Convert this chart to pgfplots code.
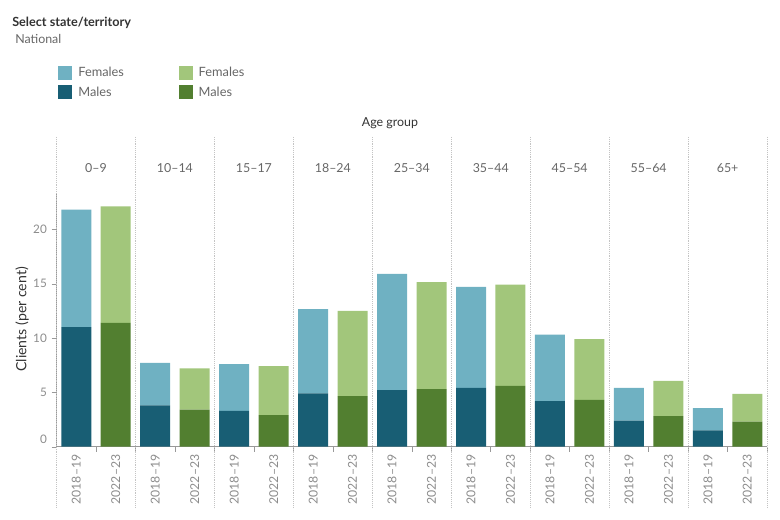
\documentclass[border=0pt]{standalone}
\usepackage{fontspec}
\setmainfont{Lato}
\usepackage{pgfplots}
\pgfplotsset{compat=1.18}
\definecolor{fblue}{HTML}{6FB1C2}
\definecolor{mblue}{HTML}{185E74}
\definecolor{fgreen}{HTML}{A2C67B}
\definecolor{mgreen}{HTML}{527F30}
\definecolor{cdark}{HTML}{333333}
\definecolor{cmid}{HTML}{666666}
\definecolor{clight}{HTML}{8C8C8C}
\definecolor{caxis}{HTML}{999999}
\definecolor{cdot}{HTML}{C4C4C4}
\pgfplotsset{myax/.style={
  width=532.9pt, height=190.25pt, scale only axis,
  at={(42.4pt,55pt)}, anchor=south west,
  xmin=-0.5, xmax=17.5, ymin=0, ymax=23.34, clip=false,
  ybar stacked, bar width=22.5pt,
}}
\begin{document}
\begin{tikzpicture}
\useasboundingbox (0,0) rectangle (585pt,390pt);
\node[anchor=base west, inner sep=0, font=\bfseries\fontsize{9.5}{11}\selectfont, text=cdark] at (9pt,370pt) {Select state/territory};
\node[anchor=base west, inner sep=0, font=\fontsize{9.3}{11}\selectfont, text=cmid] at (11.25pt,357.4pt) {National};
\node[anchor=base, inner sep=0, font=\fontsize{9.3}{11}\selectfont, text=cdark] at (292.5pt,294.75pt) {Age group};
\begin{axis}[myax,
  axis x line=bottom, axis y line=left,
  axis line style={-, draw=caxis},
  ytick={5,10,15,20},
  extra y ticks={0},
  extra y tick style={yticklabel style={yshift=5.5pt}},
  tick align=outside, major tick length=3.75pt,
  ytick style={draw=caxis},
  yticklabel style={font=\fontsize{8.8}{10}\selectfont, text=clight},
  /pgf/number format/assume math mode=true,
  xtick={0,...,17},
  xticklabels={2018–19,2022–23,2018–19,2022–23,2018–19,2022–23,2018–19,2022–23,2018–19,2022–23,2018–19,2022–23,2018–19,2022–23,2018–19,2022–23,2018–19,2022–23},
  xtick style={draw=none},
  xticklabel style={rotate=90, anchor=east, inner sep=2pt, font=\fontsize{9.2}{10}\selectfont, text=clight},
  ylabel={Clients (per cent)},
  every axis y label/.style={at={(rel axis cs:-0.0486,0.502)}, rotate=90, anchor=center, font=\fontsize{10.6}{12}\selectfont, text=cdark},
  legend columns=2,
  legend cell align=left,
  legend image code/.code={\fill[#1] (0pt,-5.25pt) rectangle (10.5pt,5.25pt);},
  legend style={at={(rel axis cs:0.002,1.508)}, anchor=north west, draw=none, fill=none, inner sep=0pt,
    font=\fontsize{9.6}{11}\selectfont, text=cmid, row sep=2.2pt,
    nodes={inner xsep=4.6pt},
    /tikz/every even column/.append style={column sep=36.3pt}},
]
\addlegendimage{fill=fblue, draw=none}
\addlegendentry{Females}
\addlegendimage{fill=fgreen, draw=none}
\addlegendentry{Females}
\addlegendimage{fill=mblue, draw=none}
\addlegendentry{Males}
\addlegendimage{fill=mgreen, draw=none}
\addlegendentry{Males}
% 2018-19 Males
\addplot[fill=mblue, draw=none, forget plot] coordinates {(0,11.0) (2,3.8) (4,3.3) (6,4.9) (8,5.2) (10,5.4) (12,4.2) (14,2.4) (16,1.5)};
% 2018-19 Females
\addplot[fill=fblue, draw=none, forget plot] coordinates {(0,10.8) (2,3.9) (4,4.3) (6,7.75) (8,10.7) (10,9.3) (12,6.1) (14,3.0) (16,2.05)};
\pgfplotsinvokeforeach{-0.5,1.5,3.5,5.5,7.5,9.5,11.5,13.5,15.5,17.5}{
  \draw[cdot, densely dotted] (axis cs:#1,28.5) -- (axis cs:#1,-5.6);
}
\pgfplotsinvokeforeach{0.5,1.5,2.5,3.5,4.5,5.5,6.5,7.5,8.5,9.5,10.5,11.5,12.5,13.5,14.5,15.5,16.5,17.5}{
  \draw[caxis] (axis cs:#1,0) -- ++(0pt,-3.75pt);
}
\node[font=\fontsize{9.3}{11}\selectfont, text=cmid] at (axis cs:0.5,25.64) {0–9};
\node[font=\fontsize{9.3}{11}\selectfont, text=cmid] at (axis cs:2.5,25.64) {10–14};
\node[font=\fontsize{9.3}{11}\selectfont, text=cmid] at (axis cs:4.5,25.64) {15–17};
\node[font=\fontsize{9.3}{11}\selectfont, text=cmid] at (axis cs:6.5,25.64) {18–24};
\node[font=\fontsize{9.3}{11}\selectfont, text=cmid] at (axis cs:8.5,25.64) {25–34};
\node[font=\fontsize{9.3}{11}\selectfont, text=cmid] at (axis cs:10.5,25.64) {35–44};
\node[font=\fontsize{9.3}{11}\selectfont, text=cmid] at (axis cs:12.5,25.64) {45–54};
\node[font=\fontsize{9.3}{11}\selectfont, text=cmid] at (axis cs:14.5,25.64) {55–64};
\node[font=\fontsize{9.3}{11}\selectfont, text=cmid] at (axis cs:16.5,25.64) {65+};
\end{axis}
\begin{axis}[myax, hide axis]
% 2022-23 Males
\addplot[fill=mgreen, draw=none] coordinates {(1,11.4) (3,3.4) (5,2.9) (7,4.65) (9,5.3) (11,5.6) (13,4.3) (15,2.8) (17,2.3)};
% 2022-23 Females
\addplot[fill=fgreen, draw=none] coordinates {(1,10.7) (3,3.8) (5,4.5) (7,7.85) (9,9.85) (11,9.3) (13,5.6) (15,3.25) (17,2.55)};
\end{axis}
\end{tikzpicture}
\end{document}
